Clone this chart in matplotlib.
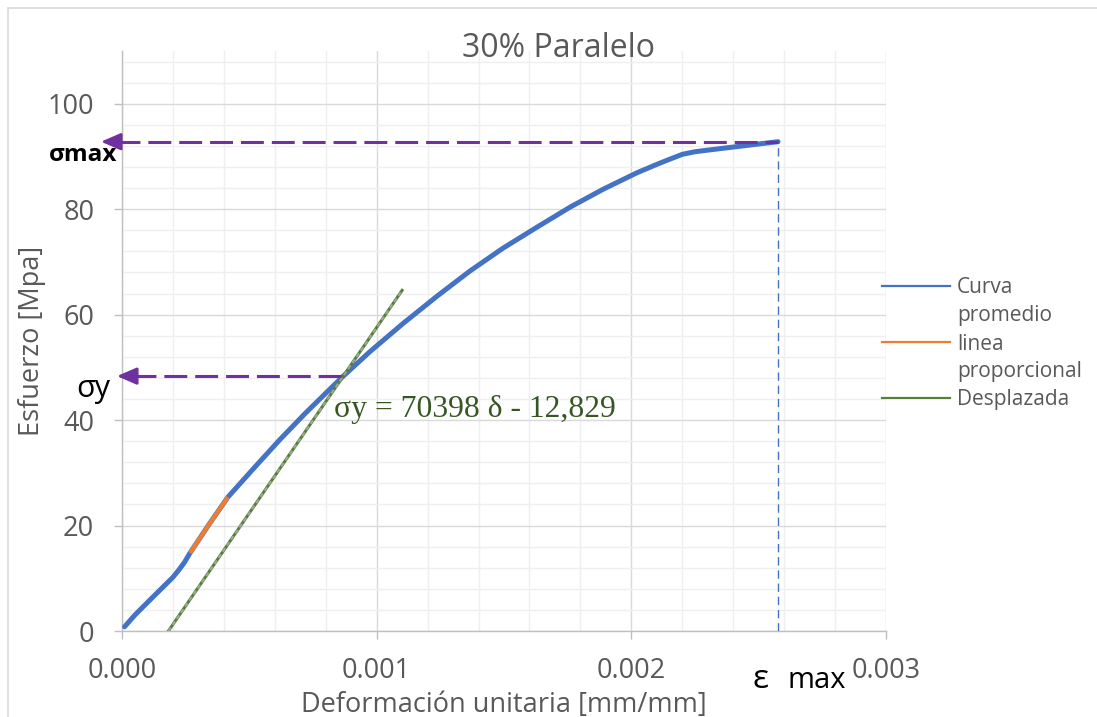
import numpy as np
import matplotlib
matplotlib.use("Agg")
import matplotlib.pyplot as plt
from matplotlib.lines import Line2D
from matplotlib.patches import Rectangle
from matplotlib.ticker import MultipleLocator, FixedLocator

# ---------------- data ----------------
# averaged stress-strain curve
strain_curve = [0.000010, 0.000050, 0.000110, 0.000177, 0.000200, 0.000222,
                0.000245, 0.000267, 0.000340, 0.000416, 0.000520, 0.000620,
                0.000720, 0.000817, 0.000868, 0.000974, 0.001103, 0.001237,
                0.001367, 0.001496, 0.001630, 0.001760, 0.001890, 0.002022,
                0.002100, 0.002152, 0.002200, 0.002250, 0.002300, 0.002420,
                0.002576]
stress_curve = [0.8, 3.0, 5.9, 9.1, 10.2, 11.5,
                13.0, 14.8, 20.1, 25.4, 31.0, 36.3,
                41.3, 45.9, 48.3, 53.0, 58.3, 63.5,
                68.3, 72.6, 76.6, 80.4, 83.8, 86.9,
                88.5, 89.5, 90.4, 90.9, 91.2, 91.9,
                92.8]

# proportional (linear) segment of the curve
strain_prop = [0.000267, 0.000340, 0.000416]
stress_prop = [14.8, 20.1, 25.4]

# offset line: sigma = 70398 * delta - 12.829
slope_offset = 70398.0
intercept_offset = -12.829
offset_strain_end = 0.0011

series_labels = ["Curva promedio", "linea proporcional", "Desplazada"]
x_ticks = [0.000, 0.001, 0.002, 0.003]
x_tick_labels = ["0.000", "0.001", "0.002", "0.003"]
y_ticks = [0, 20, 40, 60, 80, 100]

# ---------------- style ----------------
BLUE = "#4472C4"
ORANGE = "#ED7D31"
GREEN = "#548235"
DARKGREEN = "#375623"
PURPLE = "#7030A0"
GRAY_TXT = "#595959"
SANS = ["Open Sans", "DejaVu Sans"]
plt.rcParams["font.family"] = SANS

W, H = 1097, 717
fig = plt.figure(figsize=(W / 100, H / 100), dpi=100)
fig.patch.set_facecolor("white")

# chart frame
fig.add_artist(Rectangle((8 / W, -0.05), 1.2, 1 - 8 / H + 0.05,
                         transform=fig.transFigure, fill=False,
                         edgecolor="#d9d9d9", lw=1.2))

L, R, T, B = 122, 886, 51, 631
ax = fig.add_axes([L / W, 1 - B / H, (R - L) / W, (B - T) / H])
ax.set_xlim(0, 0.003)
ax.set_ylim(0, 110)

ax.xaxis.set_major_locator(FixedLocator(x_ticks))
ax.set_xticklabels(x_tick_labels)
ax.xaxis.set_minor_locator(MultipleLocator(0.0002))
ax.yaxis.set_major_locator(FixedLocator(y_ticks))
ax.yaxis.set_minor_locator(MultipleLocator(4))

ax.grid(which="minor", color="#efefef", lw=1.0, zorder=0)
ax.grid(which="major", color="#d9d9d9", lw=1.0, zorder=0)
ax.set_axisbelow(True)
for s in ["top", "right"]:
    ax.spines[s].set_visible(False)
for s in ["left", "bottom"]:
    ax.spines[s].set_color("#bfbfbf")
    ax.spines[s].set_linewidth(1.0)

ax.tick_params(which="major", length=6, width=1.0, color="#bfbfbf",
               labelcolor=GRAY_TXT, labelsize=19.5)
ax.tick_params(axis="y", which="major", pad=14)
ax.tick_params(axis="x", which="major", pad=13)
ax.tick_params(which="minor", length=0)

ax.set_xlabel("Deformación unitaria [mm/mm]", fontsize=19.5, color=GRAY_TXT)
ax.set_ylabel("Esfuerzo [Mpa]", fontsize=19.5, color=GRAY_TXT)
ax.xaxis.set_label_coords(0.5, -0.103)
ax.yaxis.set_label_coords(-0.099, 0.5)

fig.text(558 / W, 1 - 57 / H, "30% Paralelo", ha="center", va="baseline",
         fontsize=23, color=GRAY_TXT)

# ---------------- marks ----------------
ax.plot(strain_curve, stress_curve, color=BLUE, lw=3.6,
        solid_capstyle="round", solid_joinstyle="round", zorder=3)
ax.plot(strain_prop, stress_prop, color=ORANGE, lw=3.0,
        solid_capstyle="butt", zorder=4)

x0 = -intercept_offset / slope_offset
off_x = np.array([x0, offset_strain_end])
off_y = slope_offset * off_x + intercept_offset
ax.plot(off_x, off_y, color=GREEN, lw=2.2, zorder=5)
ax.plot(off_x, off_y, color="#a5a5a5", lw=1.4, dashes=(2.2, 1.6), zorder=6)

# yield point: intersection of the offset line with the curve
sx = np.array(strain_curve)
sy = np.array(stress_curve)
fine = np.linspace(x0, offset_strain_end, 4000)
diff = np.interp(fine, sx, sy) - (slope_offset * fine + intercept_offset)
idx = np.where(np.diff(np.sign(diff)) != 0)[0][0]
eps_y = fine[idx]
sigma_y = slope_offset * eps_y + intercept_offset

eps_max = strain_curve[-1]
sigma_max = stress_curve[-1]

px = 0.003 / (R - L)  # strain per pixel


def h_arrow(y, x_end, tip_x):
    head = 16 * px
    ax.plot([tip_x + head, x_end], [y, y], color=PURPLE, lw=2.2,
            dashes=(7.5, 2.6), clip_on=False, zorder=7)
    ax.annotate("", xy=(tip_x, y), xytext=(tip_x + head, y),
                arrowprops=dict(arrowstyle="-|>,head_length=0.6,head_width=0.26",
                                color=PURPLE, lw=2.0, shrinkA=0, shrinkB=0,
                                mutation_scale=20),
                annotation_clip=False, zorder=8)


h_arrow(sigma_max, eps_max, -21 * px)
h_arrow(sigma_y, eps_y, -5 * px)

ax.plot([eps_max, eps_max], [0, sigma_max], color=BLUE, lw=1.0,
        dashes=(6, 3.5), zorder=3)

ax.text(-5 * px, 89.2, "σmax", ha="right", va="baseline", fontsize=17.5,
        fontweight="bold", color="black", clip_on=False)
ax.text(-12 * px, 44.3, "σy", ha="right", va="baseline", fontsize=22,
        color="black", clip_on=False)
fig.text(752 / W, 1 - 688 / H, "ε", ha="left", va="baseline",
         fontsize=24, color="black")
fig.text(846 / W, 1 - 688 / H, "max", ha="right", va="baseline",
         fontsize=21, color="black")

ax.text(0.000832, 40.5, "σy = 70398 δ - 12,829", ha="left", va="baseline",
        fontsize=22.8, color=DARKGREEN,
        family=["Liberation Serif", "DejaVu Serif"], zorder=9)

# ---------------- legend ----------------
leg_rows = [["Curva", "promedio"], ["linea", "proporcional"], ["Desplazada"]]
leg_colors = [BLUE, ORANGE, GREEN]
row_y = 286
for lines, col in zip(leg_rows, leg_colors):
    fig.add_artist(Line2D([882 / W, 950 / W], [1 - row_y / H] * 2,
                          transform=fig.transFigure, color=col, lw=1.6))
    for k, t in enumerate(lines):
        fig.text(957 / W, 1 - (row_y + 7.5 + 28 * k) / H, t, ha="left",
                 va="baseline", fontsize=15, color=GRAY_TXT)
    row_y += 56

fig.savefig("out.png", dpi=100, facecolor="white")
